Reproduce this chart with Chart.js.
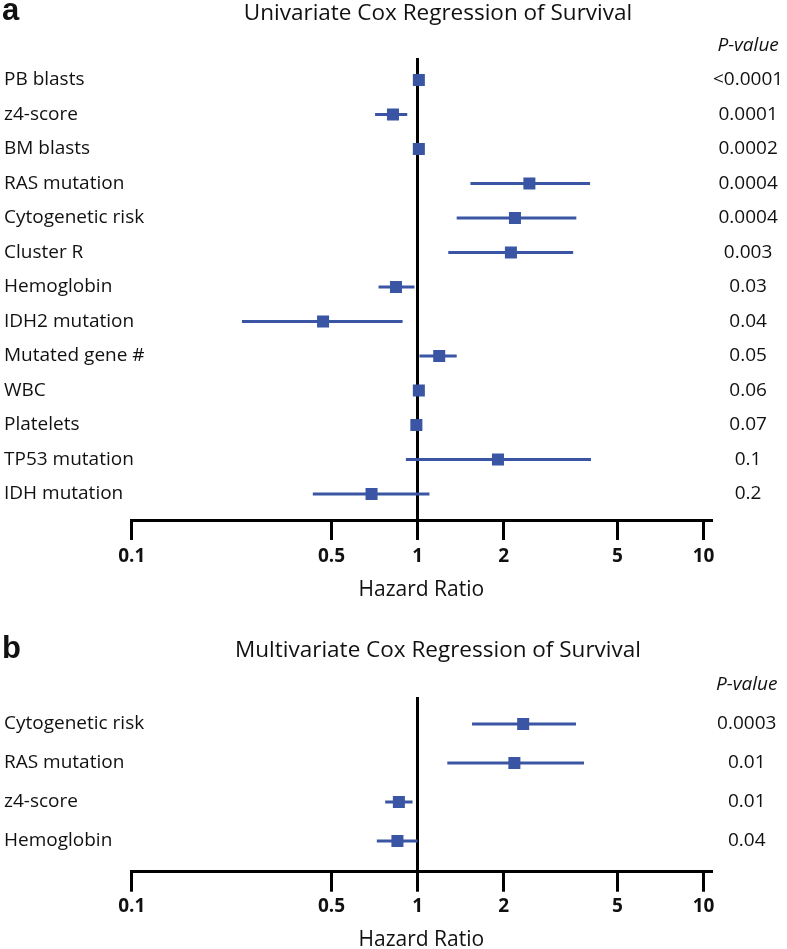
<!DOCTYPE html>
<html>
<head>
<meta charset="utf-8">
<script src="https://cdn.jsdelivr.net/npm/chart.js@4.4.1/dist/chart.umd.min.js"></script>
<style>
html,body{margin:0;padding:0;background:#fff;overflow:hidden;width:787px;height:949px}
#wrap{position:relative;width:787px;height:949px}
canvas{position:absolute;left:0}
#ca{top:0}
#cb{top:620px}
.letter{position:absolute;left:2px;font-family:'Liberation Sans',Arial,sans-serif;font-weight:bold;font-size:31px;line-height:31px;color:#111}
</style>
</head>
<body>
<div id="wrap">
  <canvas id="ca" width="787" height="620"></canvas>
  <canvas id="cb" width="787" height="340"></canvas>
  <div class="letter" style="top:-6px">a</div>
  <div class="letter" style="top:632px">b</div>
</div>
<script>
// ---- Panel a: univariate ----
const catsA = ['PB blasts','z4-score','BM blasts','RAS mutation','Cytogenetic risk','Cluster R','Hemoglobin','IDH2 mutation','Mutated gene #','WBC','Platelets','TP53 mutation','IDH mutation'];
const hrA   = [1.01, 0.82, 1.01, 2.46, 2.19, 2.12, 0.84, 0.467, 1.19, 1.01, 0.99, 1.91, 0.69];
const loA   = [1.00, 0.71, 1.00, 1.53, 1.37, 1.28, 0.73, 0.243, 1.015, 1.00, 0.985, 0.91, 0.43];
const hiA   = [1.02, 0.92, 1.02, 4.01, 3.59, 3.50, 0.975, 0.886, 1.37, 1.02, 0.995, 4.04, 1.10];
const pA    = ['<0.0001','0.0001','0.0002','0.0004','0.0004','0.003','0.03','0.04','0.05','0.06','0.07','0.1','0.2'];

// ---- Panel b: multivariate ----
const catsB = ['Cytogenetic risk','RAS mutation','z4-score','Hemoglobin'];
const hrB   = [2.34, 2.18, 0.86, 0.85];
const loB   = [1.55, 1.27, 0.77, 0.72];
const hiB   = [3.58, 3.82, 0.96, 1.00];
const pB    = ['0.0003','0.01','0.01','0.04'];

// ---- shared axis settings ----
const xTicks   = [0.1, 0.5, 1, 2, 5, 10];
const xMin     = 0.1;
const xMax     = 10.62;
const refValue = 1;
const titleA   = 'Univariate Cox Regression of Survival';
const titleB   = 'Multivariate Cox Regression of Survival';
const xTitle   = 'Hazard Ratio';
const pHeader  = 'P-value';

const FONT = "'Open Sans', 'DejaVu Sans', sans-serif";
const BLUE = '#3a55a4';
const TXT  = '#111111';
const PADL = 89;          // layout padding left (centres titles)
const AREA_L = 131.7;     // chart area left
const AREA_R = 711;       // chart area right

Chart.defaults.font.family = FONT;
Chart.defaults.animation = false;

function makeDatasets(hr, lo, hi) {
  const ds = [];
  hr.forEach((v, i) => {
    ds.push({
      data: [{x: lo[i], y: i}, {x: hi[i], y: i}],
      showLine: true, borderColor: BLUE, borderWidth: 3,
      pointRadius: 0, pointHoverRadius: 0, fill: false, order: 2
    });
  });
  ds.push({
    data: hr.map((v, i) => ({x: v, y: i})),
    pointStyle: 'rect', pointRadius: 8.5, pointHoverRadius: 8.5,
    backgroundColor: BLUE, borderWidth: 0, order: 1
  });
  return ds;
}

function makePanel(id, cats, hr, lo, hi, pv, o) {
  new Chart(document.getElementById(id), {
    type: 'scatter',
    data: { datasets: makeDatasets(hr, lo, hi) },
    options: {
      responsive: false,
      animation: false,
      events: [],
      layout: { padding: { left: PADL, right: 0, top: 0, bottom: 0 } },
      plugins: {
        legend: { display: false },
        tooltip: { enabled: false },
        title: {
          display: true, text: o.title, color: TXT,
          font: { family: FONT, size: 22.5, weight: 'normal', lineHeight: 1.2 },
          padding: { top: o.titleTop, bottom: o.titleBottom }
        }
      },
      scales: {
        x: {
          type: 'logarithmic', position: 'bottom', min: xMin, max: xMax,
          afterBuildTicks: s => { s.ticks = xTicks.map(v => ({ value: v })); },
          afterFit: s => { s.height = o.xAxisH; },
          ticks: {
            autoSkip: false, maxRotation: 0, minRotation: 0, padding: o.tickPad, color: TXT,
            font: { family: FONT, size: 19, weight: 'bold' },
            callback: v => String(v)
          },
          grid: {
            drawOnChartArea: true,
            color: c => (c.tick && c.tick.value === refValue) ? '#000' : 'rgba(0,0,0,0)',
            lineWidth: 3, drawTicks: true, tickLength: 20, tickWidth: 3, tickColor: '#000'
          },
          border: { display: true, color: '#000', width: 3 },
          title: {
            display: true, text: xTitle, color: TXT,
            font: { family: FONT, size: 21 },
            padding: { top: 0, bottom: o.xTitlePad }
          }
        },
        y: {
          type: 'linear', position: 'left', reverse: true, min: o.yMin, max: o.yMax,
          afterBuildTicks: s => { s.ticks = cats.map((c, i) => ({ value: i })); },
          afterFit: s => { s.width = AREA_L - PADL; },
          ticks: {
            mirror: true, padding: 4 - AREA_L, autoSkip: false, color: TXT,
            font: { family: FONT, size: 19 },
            callback: v => cats[v]
          },
          grid: { display: false, drawTicks: false },
          border: { display: false }
        },
        yr: {
          type: 'linear', position: 'right', reverse: true, min: o.yMin, max: o.yMax,
          afterBuildTicks: s => { s.ticks = [{ value: -1 }].concat(pv.map((p, i) => ({ value: i }))); },
          afterFit: s => { s.width = 787 - AREA_R; },
          ticks: {
            autoSkip: false, crossAlign: 'center', padding: o.rPad, color: TXT,
            font: c => ({ family: FONT, size: 19, style: (c.tick && c.tick.value === -1) ? 'italic' : 'normal' }),
            callback: v => v === -1 ? pHeader : pv[v]
          },
          grid: { display: false, drawTicks: false },
          border: { display: false }
        }
      }
    }
  });
}

makePanel('ca', catsA, hrA, loA, hiA, pA, {
  title: titleA, titleTop: 0, titleBottom: 31,
  xAxisH: 100, tickPad: 5, xTitlePad: 17,
  yMin: -0.638, yMax: 12.754, rPad: 2
});
makePanel('cb', catsB, hrB, loB, hiB, pB, {
  title: titleB, titleTop: 17, titleBottom: 33,
  xAxisH: 88.3, tickPad: 3, xTitlePad: 7,
  yMin: -0.69, yMax: 3.79, rPad: 5
});
</script>
</body>
</html>
